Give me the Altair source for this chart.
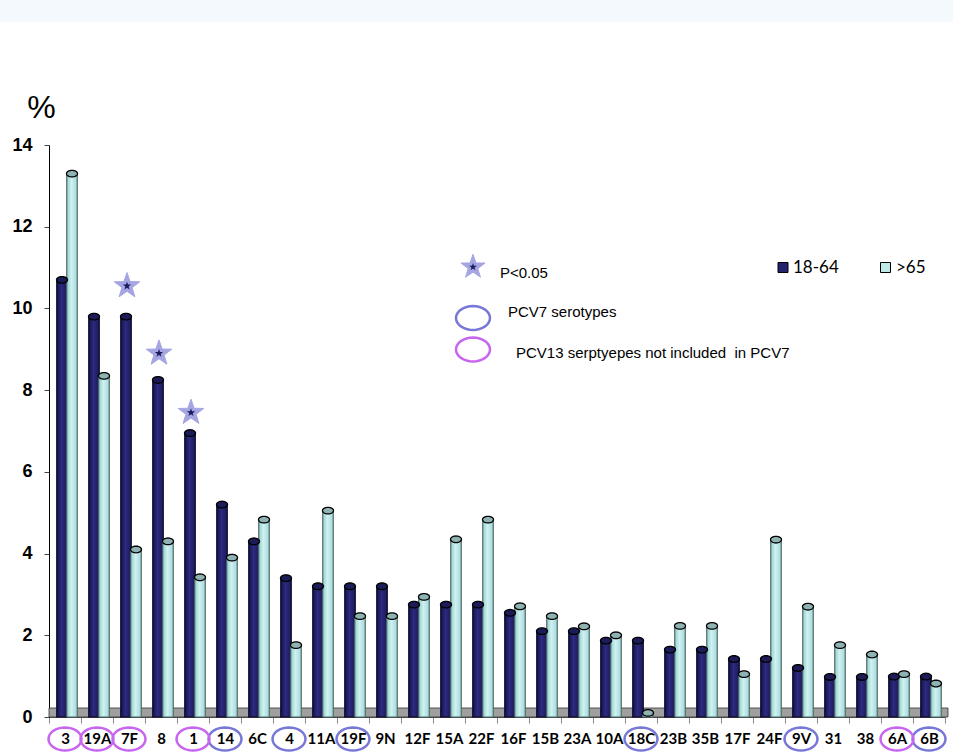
import math
import altair as alt
import pandas as pd

# ---------------- data ----------------
categories = ["3", "19A", "7F", "8", "1", "14", "6C", "4", "11A", "19F", "9N", "12F",
              "15A", "22F", "16F", "15B", "23A", "10A", "18C", "23B", "35B", "17F",
              "24F", "9V", "31", "38", "6A", "6B"]
vals_18_64 = [10.7, 9.8, 9.8, 8.25, 6.95, 5.2, 4.3, 3.4, 3.2, 3.2, 3.2, 2.75,
              2.75, 2.75, 2.55, 2.1, 2.1, 1.87, 1.87, 1.65, 1.65, 1.42,
              1.42, 1.2, 0.98, 0.98, 0.99, 0.99]
vals_65 = [13.3, 8.35, 4.1, 4.3, 3.42, 3.9, 4.83, 1.76, 5.05, 2.47, 2.47, 2.94,
           4.35, 4.83, 2.71, 2.47, 2.22, 2.0, 0.1, 2.23, 2.23, 1.05,
           4.34, 2.7, 1.76, 1.53, 1.05, 0.82]
pcv7_cats = ["14", "4", "19F", "18C", "9V", "6B"]
pcv13_cats = ["3", "19A", "7F", "1", "6A"]
star_cats = ["7F", "8", "1"]
star_vals = [10.55, 8.9, 7.45]
y_ticks = [0, 2, 4, 6, 8, 10, 12, 14]
legend_series = ["18-64", ">65"]
legend_star_text = "P<0.05"
legend_pcv7_text = "PCV7 serotypes"
legend_pcv13_text = "PCV13 serptyepes not included\u00a0 in PCV7"
y_unit = "%"

df_a = pd.DataFrame({"cat": categories, "v": vals_18_64})
df_b = pd.DataFrame({"cat": categories, "v": vals_65})
df_p7 = pd.DataFrame({"cat": pcv7_cats})
df_p13 = pd.DataFrame({"cat": pcv13_cats})
df_star = pd.DataFrame({"cat": star_cats, "v": star_vals})
one = pd.DataFrame({"k": [0]})

# ---------------- shapes ----------------
def ellipse_path(ry, n=32):
    pts = []
    for i in range(n):
        a = 2 * math.pi * i / n
        pts.append(f"{math.cos(a):.4f},{ry * math.sin(a):.4f}")
    return "M" + " L".join(pts) + " Z"

def star_path(inner=0.4):
    pts = []
    for i in range(10):
        r = 1.0 if i % 2 == 0 else inner
        a = -math.pi / 2 + i * math.pi / 5
        pts.append(f"{r * math.cos(a):.4f},{r * math.sin(a):.4f}")
    return "M" + " L".join(pts) + " Z"

CAP = ellipse_path(0.6)
RING = ellipse_path(0.7)
STAR = star_path()

DARK_X = -3
LIGHT_X = 7

grad_dark = alt.LinearGradient(
    gradient="linear", x1=0, x2=1, y1=0, y2=0,
    stops=[alt.GradientStop(color="#141448", offset=0),
           alt.GradientStop(color="#2b2b80", offset=0.45),
           alt.GradientStop(color="#1a1a58", offset=1)])
grad_light = alt.LinearGradient(
    gradient="linear", x1=0, x2=1, y1=0, y2=0,
    stops=[alt.GradientStop(color="#9ccccc", offset=0),
           alt.GradientStop(color="#ccf2f2", offset=0.45),
           alt.GradientStop(color="#a6d6d6", offset=1)])

x_scale = alt.Scale(domain=categories, paddingInner=0, paddingOuter=0)
y_scale = alt.Scale(domain=[0, 14], nice=False, zero=True)

x_axis = alt.Axis(title=None, labelAngle=0, labelFont="Lato", labelFontSize=15,
                  labelFontWeight="bold", labelColor="black", tickBand="extent",
                  tickSize=6, tickColor="#888888", domainColor="#555555",
                  labelPadding=8, grid=False)
y_axis = alt.Axis(title=None, values=y_ticks, labelFont="Liberation Sans",
                  labelFontSize=18, labelFontWeight="bold", labelColor="black",
                  tickSize=5, tickColor="#444444", domainColor="black",
                  labelPadding=12, grid=False)

X = alt.X("cat:N", scale=x_scale, axis=x_axis, sort=categories)
Y = alt.Y("v:Q", scale=y_scale, axis=y_axis)

# top band (slide header remnant)
band = alt.Chart(one).mark_rect(color="#f4f9fe").encode(
    x=alt.value(-49), x2=alt.value(904), y=alt.value(-145), y2=alt.value(-123))

floor = alt.Chart(one).mark_rect(fill="#a0a0a0", stroke="#333333", strokeWidth=0.8).encode(
    x=alt.value(0), x2=alt.value(899), y=alt.value(563), y2=alt.value(572))

bars_a = alt.Chart(df_a).mark_bar(width=10.5, xOffset=DARK_X, color=grad_dark,
                                  stroke="#0a0a28", strokeWidth=1.2).encode(x=X, y=Y)
bars_b = alt.Chart(df_b).mark_bar(width=10.5, xOffset=LIGHT_X, color=grad_light,
                                  stroke="#4e6a6a", strokeWidth=1.2).encode(x=X, y=Y)
caps_a = alt.Chart(df_a).mark_point(shape=CAP, size=121, filled=True, fill="#1c1c58",
                                    stroke="black", strokeWidth=1.3, opacity=1,
                                    xOffset=DARK_X).encode(x=X, y=Y)
caps_b = alt.Chart(df_b).mark_point(shape=CAP, size=121, filled=True, fill="#8fb2b2",
                                    stroke="black", strokeWidth=1.3, opacity=1,
                                    xOffset=LIGHT_X).encode(x=X, y=Y)

stars = alt.Chart(df_star).mark_point(shape=STAR, size=720, filled=True, fill="#8787d8",
                                      fillOpacity=0.75, stroke="#a5a5e6", strokeWidth=1,
                                      opacity=1, xOffset=-2).encode(x=X, y=Y)
stars_in = alt.Chart(df_star).mark_point(shape=STAR, size=75, filled=True, fill="#1b1b5e",
                                         opacity=1, xOffset=-2).encode(x=X, y=Y)

ring7 = alt.Chart(df_p7).mark_point(shape=RING, size=1089, filled=False, color="#7878d6",
                                    strokeWidth=2.5, opacity=1).encode(x=X, y=alt.value(594))
ring13 = alt.Chart(df_p13).mark_point(shape=RING, size=1089, filled=False, color="#c766ef",
                                      strokeWidth=2.5, opacity=1).encode(x=X, y=alt.value(594))

# ------------- annotations / legend -------------
pct = alt.Chart(one).mark_text(text=y_unit, font="Liberation Sans", fontSize=32,
                               align="center", baseline="alphabetic", color="black").encode(
    x=alt.value(-7.5), y=alt.value(-27))

lg_star = alt.Chart(one).mark_point(shape=STAR, size=640, filled=True, fill="#8787d8",
                                    fillOpacity=0.75, stroke="#a5a5e6", strokeWidth=1,
                                    opacity=1).encode(x=alt.value(424), y=alt.value(122))
lg_star_in = alt.Chart(one).mark_point(shape=STAR, size=65, filled=True, fill="#1b1b5e",
                                       opacity=1).encode(x=alt.value(424), y=alt.value(122))
lg_star_t = alt.Chart(one).mark_text(text=legend_star_text, font="Liberation Sans", fontSize=15,
                                     align="left", baseline="middle", color="black").encode(
    x=alt.value(451), y=alt.value(127.5))

lg_sq_a = alt.Chart(one).mark_square(size=100, filled=True, fill="#23236e", stroke="black",
                                     strokeWidth=1, opacity=1).encode(
    x=alt.value(734), y=alt.value(122.5))
lg_sq_b = alt.Chart(one).mark_square(size=100, filled=True, fill="#bfe9e9", stroke="black",
                                     strokeWidth=1, opacity=1).encode(
    x=alt.value(836.5), y=alt.value(122.5))
lg_t_a = alt.Chart(one).mark_text(text=legend_series[0], font="Lato", fontSize=17,
                                  align="left", baseline="middle", color="black").encode(
    x=alt.value(744), y=alt.value(123))
lg_t_b = alt.Chart(one).mark_text(text=legend_series[1], font="Lato", fontSize=17,
                                  align="left", baseline="middle", color="black").encode(
    x=alt.value(847), y=alt.value(123))

lg_r7 = alt.Chart(one).mark_point(shape=RING, size=1156, filled=False, color="#7878d6",
                                  strokeWidth=2.5, opacity=1).encode(
    x=alt.value(424), y=alt.value(173))
lg_r7_t = alt.Chart(one).mark_text(text=legend_pcv7_text, font="Liberation Sans", fontSize=15,
                                   align="left", baseline="alphabetic", color="black").encode(
    x=alt.value(459), y=alt.value(172))
lg_r13 = alt.Chart(one).mark_point(shape=RING, size=1156, filled=False, color="#c766ef",
                                   strokeWidth=2.5, opacity=1).encode(
    x=alt.value(424), y=alt.value(204.5))
lg_r13_t = alt.Chart(one).mark_text(text=legend_pcv13_text, font="Liberation Sans", fontSize=15,
                                    align="left", baseline="alphabetic", color="black").encode(
    x=alt.value(467), y=alt.value(213))

chart = alt.layer(
    band, floor, bars_a, bars_b, caps_a, caps_b, stars, stars_in, ring7, ring13,
    pct, lg_star, lg_star_in, lg_star_t, lg_sq_a, lg_sq_b, lg_t_a, lg_t_b,
    lg_r7, lg_r7_t, lg_r13, lg_r13_t
).properties(
    width=896, height=572,
    autosize=alt.AutoSizeParams(type="none"),
    padding={"left": 49, "top": 145, "right": 8, "bottom": 35},
    background="white",
).configure_view(stroke=None)

chart.save("out.html", embed_options={"renderer": "svg", "actions": False})
